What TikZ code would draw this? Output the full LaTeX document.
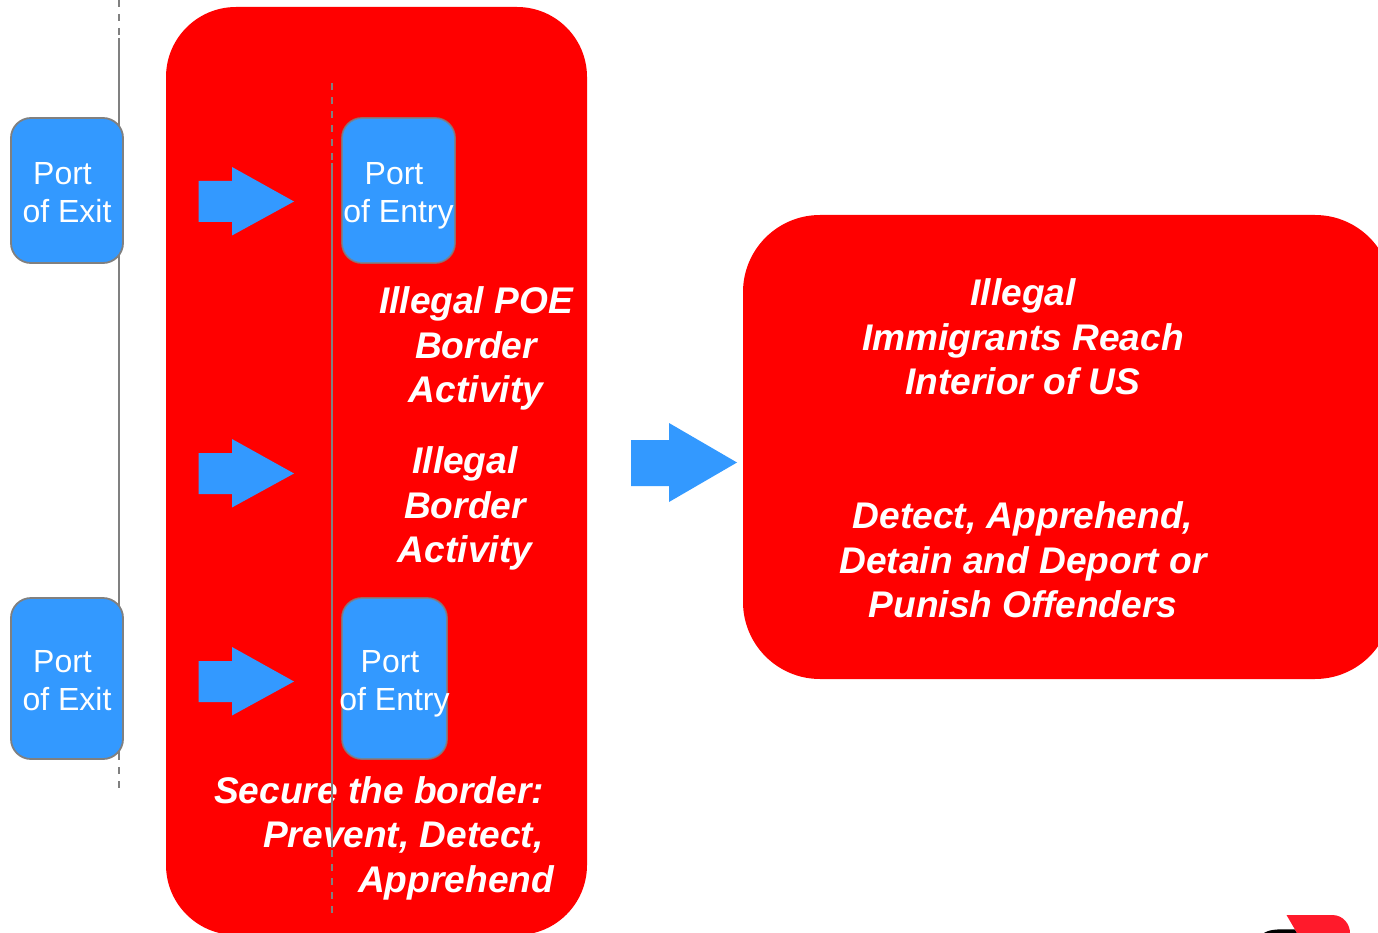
\documentclass[tikz,border=0pt]{standalone}
\usepackage{fontspec}
\setmainfont{Liberation Sans}
\definecolor{portblue}{HTML}{3399FF}
\definecolor{bigred}{HTML}{FF0000}
\definecolor{rulegray}{HTML}{808080}
\definecolor{logored}{HTML}{FF1A2B}
\newcommand{\exitstrut}{\rule{0pt}{27pt}}
\newcommand{\entrystrut}{\rule{0pt}{33pt}}
\tikzset{
  redbox/.style={fill=bigred,draw=none,rounded corners=#1,inner sep=0pt,outer sep=0pt},
  portbox/.style={fill=portblue,draw=rulegray,line width=1.8pt,rounded corners=20pt,inner sep=0pt,
    text=white,align=center,font=\fontsize{32}{38}\selectfont},
  redtext/.style={text=white,align=center,inner sep=0pt,font=\fontsize{37.1}{44.5}\selectfont\bfseries\itshape},
  blockarrow/.style={fill=portblue,draw=none},
  borderline/.style={draw=rulegray,line width=2pt},
  borderdash/.style={draw=rulegray,line width=2pt,dash pattern=on 6.6pt off 7.4pt},
  innerline/.style={draw=rulegray,line width=1.4pt},
  innerdash/.style={draw=rulegray,line width=1.4pt,dash pattern=on 6.6pt off 7.4pt},
}
\begin{document}
\begin{tikzpicture}[x=1pt,y=-1pt]
\useasboundingbox (0,0) rectangle (1378,933);
\clip (0,0) rectangle (1378,933);
% border line on the left
\draw[borderdash] (118.5,0) -- (118.5,36);
\draw[borderline] (118.5,38) -- (118.5,760);
\draw[borderdash] (118.5,767) -- (118.5,788);
% red panels
\node[redbox=70pt,minimum width=421pt,minimum height=928pt] (panel) at (376.5,471) {};
\node[redbox=77pt,minimum width=649pt,minimum height=464pt] (interior) at (1067.5,447) {};
% port boxes
\node[portbox,minimum width=112pt,minimum height=145pt] (exitA) at (67,190.5) {\exitstrut Port\hspace*{9pt}\\of Exit};
\node[portbox,minimum width=112pt,minimum height=161pt] (exitB) at (67,678.5) {\exitstrut Port\hspace*{9pt}\\of Exit};
\node[portbox,draw opacity=.8,minimum width=113pt,minimum height=145pt] (entryA) at (398.5,190.5) {\entrystrut Port\hspace*{9pt}\\of Entry};
\node[portbox,draw opacity=.8,minimum width=105pt,minimum height=161pt] (entryB) at (394.5,678.5) {\entrystrut Port\hspace*{9pt}\\\makebox[100pt][c]{of Entry}};
% arrows
\fill[blockarrow] (198.5,181) -- (232,181) -- (232,167) -- (294,201.5) -- (232,235.5) -- (232,222) -- (198.5,222) -- cycle;
\fill[blockarrow] (198.5,453) -- (232,453) -- (232,439) -- (294,473.5) -- (232,507.5) -- (232,494) -- (198.5,494) -- cycle;
\fill[blockarrow] (198.5,661) -- (232,661) -- (232,647) -- (294,681.5) -- (232,715.5) -- (232,702) -- (198.5,702) -- cycle;
\fill[blockarrow] (631,440) -- (669,440) -- (669,423) -- (737,462.5) -- (669,502) -- (669,486) -- (631,486) -- cycle;
% labels
\node[redtext] (poe) at (476,348.5) {Illegal POE\\Border\\Activity};
\node[redtext] (ilb) at (465,508.5) {Illegal\\Border\\Activity};
\node[redtext,align=left,anchor=west] (secure) at (214,838) {Secure the border:\\\hspace*{49pt}Prevent, Detect,\\\hspace*{144pt}Apprehend};
\node[redtext] (reach) at (1023,337) {Illegal\\Immigrants Reach\\Interior of US};
\node[redtext] (detect) at (1023,560) {Detect, Apprehend,\\Detain and Deport or\\Punish Offenders};
% inner border line
\draw[innerdash] (332,83.5) -- (332,162);
\draw[innerline] (332,163) -- (332,848);
\draw[innerdash] (332,850) -- (332,913);
% logo fragment
\fill[black] (1264,933) .. controls (1270,929) and (1280,929) .. (1295,929.5) -- (1297,933) -- cycle;
\fill[logored] (1286.5,915) -- (1332,915) .. controls (1344,915) and (1350,925) .. (1350,933) -- (1297,933) -- cycle;
\end{tikzpicture}
\end{document}
